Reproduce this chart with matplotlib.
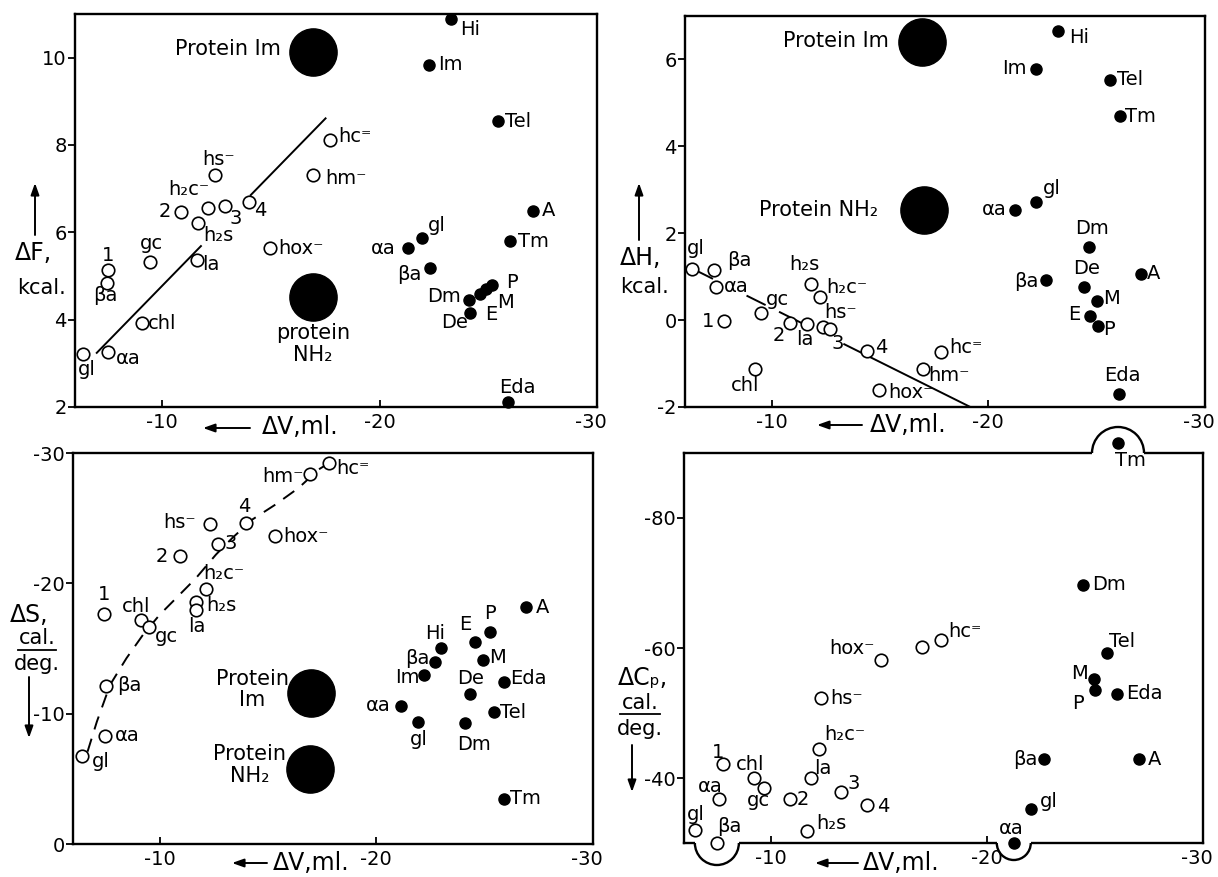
import numpy as np
import matplotlib
matplotlib.use('Agg')
import matplotlib.pyplot as plt
from matplotlib.patches import Arc, Rectangle
from matplotlib.transforms import ScaledTranslation, blended_transform_factory

plt.rcParams['font.family'] = ['DejaVu Sans']
plt.rcParams['axes.unicode_minus'] = False

W, H = 1218, 877

# Open circles: small molecules, filled circles: proteins/amides, big discs: protein groups
open_names = ['gl', 'αa', 'βa', '1', 'chl', 'gc', '2', 'h₂c⁻', 'hs⁻', '3',
              'h₂s', 'la', '4', 'hox⁻', 'hm⁻', 'hc⁼']

# panel 1: dV vs dF (kcal)
dV_open_F = [-6.39, -7.51, -7.48, -7.54, -9.08, -9.45, -10.89, -12.12, -12.45, -12.88,
             -11.67, -11.59, -14.0, -14.97, -16.96, -17.71]
dF_open = [3.21, 3.26, 4.85, 5.13, 3.92, 5.31, 6.47, 6.55, 7.31, 6.60,
           6.22, 5.36, 6.70, 5.64, 7.31, 8.12]
filled_names_F = ['Hi', 'Im', 'Tel', 'A', 'Tm', 'gl', 'αa', 'βa', 'Dm', 'De', 'E', 'M', 'P', 'Eda']
dV_filled_F = [-23.29, -22.29, -25.47, -27.05, -25.98, -21.96, -21.30, -22.34,
               -24.13, -24.17, -24.63, -24.90, -25.16, -25.89]
dF_filled = [10.88, 9.84, 8.54, 6.49, 5.80, 5.86, 5.64, 5.18, 4.45, 4.16, 4.58, 4.70, 4.79, 2.12]
dV_protein_F = [-16.94, -16.94]
dF_protein = [10.14, 4.52]
fitF_x = [-7.0, -17.52]
fitF_y = [3.24, 8.61]

# panel 2: dV vs dH (kcal)
dV_open_H = [-6.30, -7.42, -7.36, -7.80, -9.21, -9.52, -10.83, -12.24, -12.38, -12.69,
             -11.81, -11.65, -14.40, -14.97, -17.0, -17.82]
dH_open = [1.18, 0.77, 1.16, -0.03, -1.12, 0.16, -0.07, 0.54, -0.16, -0.20,
           0.83, -0.09, -0.72, -1.61, -1.12, -0.74]
filled_names_H = ['Hi', 'Im', 'Tel', 'Tm', 'gl', 'αa', 'Dm', 'βa', 'A', 'De', 'M', 'E', 'P', 'Eda']
dV_filled_H = [-23.23, -22.22, -25.62, -26.08, -22.22, -21.22, -24.66, -22.65,
               -27.06, -24.42, -25.02, -24.69, -25.08, -26.04]
dH_filled = [6.66, 5.79, 5.53, 4.69, 2.72, 2.54, 1.69, 0.93, 1.07, 0.77, 0.43, 0.10, -0.13, -1.71]
dV_protein_H = [-16.94, -17.04]
dH_protein = [6.41, 2.53]
fitH_x = [-6.40, -19.13]
fitH_y = [1.17, -1.99]

# panel 3: dV vs dS (cal/deg)
dV_open_S = [-6.41, -7.48, -7.52, -7.43, -9.16, -9.50, -10.92, -12.14, -12.34, -12.68,
             -11.68, -11.68, -13.98, -15.31, -16.96, -17.80]
dS_open = [-6.77, -8.31, -12.15, -17.67, -17.15, -16.64, -22.08, -19.59, -24.59, -23.03,
           -18.56, -17.97, -24.64, -23.62, -28.36, -29.26]
filled_names_S = ['A', 'P', 'E', 'Hi', 'M', 'βa', 'Im', 'Eda', 'De', 'αa', 'Tel', 'gl', 'Dm', 'Tm']
dV_filled_S = [-26.89, -25.24, -24.56, -22.97, -24.94, -22.69, -22.20, -25.90,
               -24.33, -21.13, -25.41, -21.94, -24.11, -25.87]
dS_filled = [-18.18, -16.25, -15.49, -15.03, -14.08, -13.95, -12.97, -12.46,
             -11.51, -10.62, -10.10, -9.33, -9.26, -3.49]
dV_protein_S = [-16.99, -16.93]
dS_protein = [-11.62, -5.74]
curveS_x = [-6.67, -7.10, -7.71, -8.47, -9.23, -10.0, -10.92, -11.68, -12.60, -13.36,
            -14.28, -15.35, -16.42, -17.34, -17.72]
curveS_y = [-7.08, -9.38, -12.21, -14.26, -16.05, -17.59, -19.13, -20.41, -22.21, -23.49,
            -24.90, -26.05, -27.33, -28.74, -29.13]

# panel 4: dV vs dCp (cal/deg)
dV_open_C = [-6.53, -7.63, -7.52, -7.80, -9.25, -9.71, -10.90, -12.26, -12.34, -13.27,
             -11.70, -11.85, -14.45, -15.09, -17.02, -17.89]
dC_open = [-32.0, -36.7, -30.0, -42.1, -40.0, -38.5, -36.7, -44.4, -52.3, -37.9,
           -31.9, -40.0, -35.9, -58.1, -60.1, -61.2]
filled_names_C = ['Tm', 'Dm', 'Tel', 'M', 'P', 'Eda', 'βa', 'A', 'gl', 'αa']
dV_filled_C = [-26.07, -24.44, -25.56, -24.95, -25.0, -26.04, -22.63, -27.02, -22.06, -21.25]
dC_filled = [-91.6, -69.7, -59.2, -55.3, -53.5, -53.0, -42.9, -42.9, -35.2, -30.0]

xticks = [-10, -20, -30]
yticks_F = [2, 4, 6, 8, 10]
yticks_H = [-2, 0, 2, 4, 6]
yticks_S = [0, -10, -20, -30]
yticks_C = [-40, -60, -80]

# label placement (pixels: ha, dx, dy)
offs_open_F = {'gl': ('center', 3, -15), 'αa': ('left', 8, -7), 'βa': ('center', -2, -13),
               '1': ('center', 0, 15), 'chl': ('left', 6, 0), 'gc': ('center', 1, 19),
               '2': ('right', -10, 0), 'h₂c⁻': ('center', -19, 19), 'hs⁻': ('center', 3, 16),
               '3': ('center', 11, -12), 'h₂s': ('center', 20, -13), 'la': ('left', 6, -4),
               '4': ('left', 5, -9), 'hox⁻': ('left', 8, 0), 'hm⁻': ('left', 12, -3),
               'hc⁼': ('left', 9, 3)}
offs_filled_F = {'Hi': ('left', 9, -10), 'Im': ('left', 9, 0), 'Tel': ('left', 7, 0),
                 'A': ('left', 9, 0), 'Tm': ('left', 8, 0), 'gl': ('left', 6, 13),
                 'αa': ('right', -12, 0), 'βa': ('right', -9, -6), 'Dm': ('right', -8, 4),
                 'De': ('right', -2, -10), 'E': ('center', 11, -20), 'M': ('center', 19, -13),
                 'P': ('center', 20, 3), 'Eda': ('center', 10, 14)}
offs_open_H = {'gl': ('center', 4, 20), 'βa': ('left', 13, 9), 'αa': ('left', 8, 0),
               '1': ('right', -10, 0), 'gc': ('center', 16, 14), '2': ('center', -11, -12),
               'la': ('center', -3, -15), 'h₂s': ('center', -7, 20), 'h₂c⁻': ('left', 6, 9),
               'hs⁻': ('left', 1, 15), '3': ('center', 8, -15), '4': ('left', 8, 4),
               'chl': ('center', -9, -17), 'hox⁻': ('left', 9, -2), 'hm⁻': ('left', 5, -7),
               'hc⁼': ('left', 8, 5)}
offs_filled_H = {'Hi': ('left', 11, -7), 'Im': ('right', -10, 0), 'Tel': ('left', 7, 0),
                 'Tm': ('left', 5, 0), 'gl': ('left', 6, 13), 'αa': ('right', -8, 0),
                 'Dm': ('center', 3, 18), 'βa': ('right', -7, -2), 'A': ('left', 6, 0),
                 'De': ('center', 2, 18), 'M': ('left', 6, 3), 'E': ('right', -10, 1),
                 'P': ('left', 5, -4), 'Eda': ('center', 3, 19)}
offs_open_S = {'gl': ('left', 10, -6), 'αa': ('left', 10, 0), 'βa': ('left', 11, 0),
               '1': ('center', 0, 19), 'chl': ('center', -5, 14), 'gc': ('left', 6, -9),
               '2': ('right', -12, 0), 'hs⁻': ('right', -14, 1), '3': ('left', 7, 0),
               '4': ('center', -2, 16), 'h₂c⁻': ('left', -3, 15), 'h₂s': ('left', 10, -3),
               'la': ('center', 1, -17), 'hox⁻': ('left', 9, 0), 'hm⁻': ('right', -7, -2),
               'hc⁼': ('left', 8, -6)}
offs_filled_S = {'A': ('left', 10, 0), 'P': ('center', 0, 19), 'E': ('center', -10, 18),
                 'Hi': ('center', -6, 15), 'M': ('left', 6, 3), 'βa': ('right', -5, 4),
                 'Im': ('right', -4, -3), 'Eda': ('left', 6, 3), 'De': ('center', 0, 15),
                 'αa': ('right', -10, 0), 'Tel': ('left', 6, 0), 'gl': ('center', 0, -17),
                 'Dm': ('center', 9, -21), 'Tm': ('left', 6, 0)}
offs_open_C = {'gl': ('center', 0, 16), 'βa': ('left', 0, 17), 'αa': ('center', -9, 13),
               '1': ('center', -5, 12), 'chl': ('center', -4, 14), 'gc': ('center', -6, -13),
               '2': ('left', 7, 0), 'la': ('left', 4, 9), 'h₂s': ('left', 9, 7),
               'h₂c⁻': ('left', 5, 15), 'hs⁻': ('left', 9, 0), '3': ('center', 12, 8),
               '4': ('left', 10, -2), 'hox⁻': ('right', -6, 12), 'hc⁼': ('left', 7, 9)}
offs_filled_C = {'Tm': ('center', 12, -18), 'Dm': ('left', 9, 0), 'Tel': ('left', 2, 12),
                 'M': ('right', -6, 5), 'P': ('center', -17, -13), 'Eda': ('left', 9, 0),
                 'βa': ('right', -6, 0), 'A': ('left', 9, 0), 'gl': ('left', 9, 8),
                 'αa': ('center', -3, 15)}

FS = 14


def P(px, py):
    return px / W, 1 - py / H


def make_axes(l, t, r, b):
    ax = fig.add_axes([l / W, 1 - b / H, (r - l) / W, (b - t) / H])
    for s in ax.spines.values():
        s.set_linewidth(1.7)
    ax.tick_params(axis='x', direction='in', length=5, width=1.3, pad=4, labelsize=FS)
    ax.tick_params(axis='y', direction='out', length=5, width=1.3, pad=1, labelsize=FS)
    ax.set_xlim(-6, -30)
    ax.set_xticks(xticks, [str(v) for v in xticks])
    # the last label sits a little inside the right frame edge
    lab = ax.xaxis.get_major_ticks()[-1].label1
    lab.set_transform(lab.get_transform() + ScaledTranslation(-0.06, 0, fig.dpi_scale_trans))
    return ax


def points(ax, xs, ys, names, offs, filled):
    if filled:
        ax.plot(xs, ys, 'o', color='black', ms=8, ls='none', clip_on=False, zorder=5)
    else:
        ax.plot(xs, ys, 'o', mfc='white', mec='black', mew=1.2, ms=9, ls='none',
                clip_on=False, zorder=5)
    for x, y, n in zip(xs, ys, names):
        if n not in offs:
            continue
        ha, dx, dy = offs[n]
        ax.annotate(n, (x, y), xytext=(dx, dy), textcoords='offset pixels',
                    ha=ha, va='center', fontsize=FS, annotation_clip=False)


def proteins(ax, xs, ys):
    ax.plot(xs, ys, 'o', color='black', ms=34, ls='none', zorder=4)


def fit_segments(ax, x0x1, y0y1, pieces):
    x0, x1 = x0x1
    y0, y1 = y0y1
    for a, b in pieces:
        ya = y0 + (a - x0) * (y1 - y0) / (x1 - x0)
        yb = y0 + (b - x0) * (y1 - y0) / (x1 - x0)
        ax.plot([a, b], [ya, yb], color='black', lw=1.4, zorder=3)


def arrow(p_from, p_to):
    fig.add_artist(matplotlib.patches.FancyArrowPatch(
        P(*p_from), P(*p_to), transform=fig.transFigure, arrowstyle='-|>,head_length=7,head_width=2.5',
        color='black', lw=1.4, shrinkA=0, shrinkB=0))


def bulge(ax, x, top, r_px):
    tr_pt = blended_transform_factory(ax.transData, ax.transAxes)
    tr = fig.dpi_scale_trans + ScaledTranslation(x, 1 if top else 0, tr_pt)
    r = r_px / 100
    ax.add_patch(Rectangle((-r, -0.03), 2 * r, 0.06, transform=tr, fc='white', ec='none',
                           zorder=3, clip_on=False))
    t1, t2 = (0, 180) if top else (180, 360)
    ax.add_patch(Arc((0, 0), 2 * r, 2 * r, theta1=t1, theta2=t2, transform=tr,
                     lw=1.7, color='black', zorder=4, clip_on=False))


fig = plt.figure(figsize=(W / 100, H / 100), dpi=100)

# ---- panel 1: dF ----
axF = make_axes(75, 14, 597, 407)
axF.set_ylim(2, 11)
axF.set_yticks(yticks_F, [str(v) for v in yticks_F])
fit_segments(axF, fitF_x, fitF_y, [(-7.0, -11.79), (-14.08, -17.52)])
points(axF, dV_open_F, dF_open, open_names, offs_open_F, False)
points(axF, dV_filled_F, dF_filled, filled_names_F, offs_filled_F, True)
proteins(axF, dV_protein_F, dF_protein)
axF.annotate('Protein Im', (dV_protein_F[0], dF_protein[0]), xytext=(-32, 3),
             textcoords='offset pixels', ha='right', va='center', fontsize=FS + 1)
axF.annotate('protein\nNH₂', (dV_protein_F[1], dF_protein[1]), xytext=(0, -26),
             textcoords='offset pixels', ha='center', va='top', fontsize=FS + 1,
             linespacing=1.1)

# ---- panel 2: dH ----
axH = make_axes(685, 16, 1205, 407)
axH.set_ylim(-2, 7)
axH.set_yticks(yticks_H, [str(v) for v in yticks_H])
fit_segments(axH, fitH_x, fitH_y, [(-6.40, -7.25), (-8.88, -9.68), (-10.38, -11.47),
                                   (-13.35, -19.13)])
points(axH, dV_open_H, dH_open, open_names, offs_open_H, False)
points(axH, dV_filled_H, dH_filled, filled_names_H, offs_filled_H, True)
proteins(axH, dV_protein_H, dH_protein)
axH.annotate('Protein Im', (dV_protein_H[0], dH_protein[0]), xytext=(-33, 1),
             textcoords='offset pixels', ha='right', va='center', fontsize=FS + 1)
axH.annotate('Protein NH₂', (dV_protein_H[1], dH_protein[1]), xytext=(-46, 0),
             textcoords='offset pixels', ha='right', va='center', fontsize=FS + 1)

# ---- panel 3: dS ----
axS = make_axes(73, 453, 593, 844)
axS.set_ylim(0, -30)
axS.set_yticks(yticks_S, [str(v) for v in yticks_S])
axS.plot(curveS_x, curveS_y, color='black', lw=1.4, ls=(0, (7, 5)), zorder=3)
points(axS, dV_open_S, dS_open, open_names, offs_open_S, False)
points(axS, dV_filled_S, dS_filled, filled_names_S, offs_filled_S, True)
proteins(axS, dV_protein_S, dS_protein)
axS.annotate('Protein\nIm', (dV_protein_S[0], dS_protein[0]), xytext=(-22, 3),
             textcoords='offset pixels', ha='right', va='center', fontsize=FS + 1,
             multialignment='center', linespacing=1.1)
axS.annotate('Protein\nNH₂', (dV_protein_S[1], dS_protein[1]), xytext=(-24, 4),
             textcoords='offset pixels', ha='right', va='center', fontsize=FS + 1,
             multialignment='center', linespacing=1.1)

# ---- panel 4: dCp ----
axC = make_axes(684, 453, 1203, 843)
axC.set_ylim(-30, -90)
axC.set_yticks(yticks_C, [str(v) for v in yticks_C])
bulge(axC, dV_filled_C[0], True, 26)
bulge(axC, dV_open_C[2], False, 22)
bulge(axC, dV_filled_C[-1], False, 17)
points(axC, dV_open_C, dC_open, open_names, offs_open_C, False)
points(axC, dV_filled_C, dC_filled, filled_names_C, offs_filled_C, True)

# ---- axis titles ----
for px, py in [(262, 427), (870, 425), (273, 863), (863, 863)]:
    fig.text(*P(px, py), 'ΔV,ml.', ha='left', va='center', fontsize=17)
for a, b in [((250, 428), (203, 428)), ((862, 425), (817, 425)),
             ((267, 863), (232, 863)), ((858, 863), (815, 863))]:
    arrow(a, b)

fig.text(*P(15, 253), 'ΔF,', ha='left', va='center', fontsize=17)
fig.text(*P(17, 288), 'kcal.', ha='left', va='center', fontsize=15)
arrow((35, 235), (35, 183))

fig.text(*P(620, 258), 'ΔH,', ha='left', va='center', fontsize=17)
fig.text(*P(620, 287), 'kcal.', ha='left', va='center', fontsize=15)
arrow((639, 240), (639, 183))

fig.text(*P(10, 615), 'ΔS,', ha='left', va='center', fontsize=17)
fig.text(*P(37, 638), 'cal.', ha='center', va='center', fontsize=15)
fig.add_artist(plt.Line2D([18 / W, 56 / W], [1 - 650 / H] * 2, color='black', lw=1.3))
fig.text(*P(37, 664), 'deg.', ha='center', va='center', fontsize=15)
arrow((29, 677), (29, 738))

fig.text(*P(618, 678), 'ΔCₚ,', ha='left', va='center', fontsize=17)
fig.text(*P(640, 703), 'cal.', ha='center', va='center', fontsize=15)
fig.add_artist(plt.Line2D([620 / W, 660 / W], [1 - 714 / H] * 2, color='black', lw=1.3))
fig.text(*P(640, 729), 'deg.', ha='center', va='center', fontsize=15)
arrow((632, 745), (632, 792))

fig.savefig('out.png', dpi=100)
